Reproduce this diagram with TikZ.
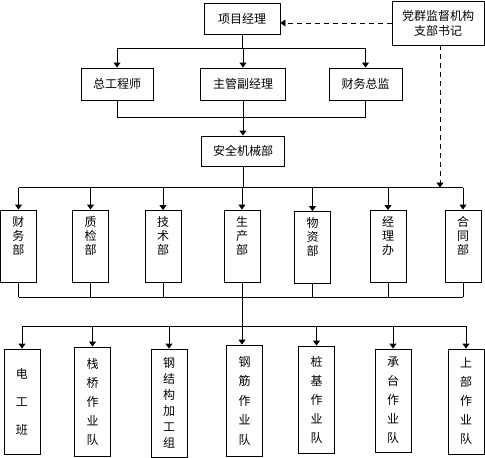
\documentclass[tikz,border=0pt]{standalone}
\usepackage{fontspec}
\newfontfamily\cjk{Noto Sans CJK SC}
\usetikzlibrary{arrows.meta}
\begin{document}
\begin{tikzpicture}[x=1pt,y=-1pt,
  font=\cjk\fontsize{12}{14}\selectfont,
  box/.style={draw,line width=0.9pt,inner sep=0pt,align=center},
  ln/.style={line width=0.9pt},
  arr/.style={ln,-{Triangle[width=7pt,length=5pt]}},
  dsh/.style={dash pattern=on 5pt off 4pt},
  vt/.style={font=\cjk\fontsize{12}{#1}\selectfont},
  dept/.style={box,minimum width=36pt,minimum height=72pt},
  team/.style={box,minimum width=36pt},
  toplab/.style={anchor=north,yshift=-3pt,align=center,font=\cjk\fontsize{12}{14}\selectfont}
]
\useasboundingbox (0,0) rectangle (485,458);

% top
\node[box,minimum width=76pt,minimum height=31pt] (pm) at (242,18.5) {项目经理};
\node[box,minimum width=92pt,minimum height=44pt,vt=15] (party) at (438,23) {党群监督机构\\支部书记};

% row 2
\node[box,minimum width=72pt,minimum height=32pt] (zg) at (117,84) {总工程师};
\node[box,minimum width=85pt,minimum height=32pt] (zf) at (243,84) {主管副经理};
\node[box,minimum width=73pt,minimum height=32pt] (cw) at (365.5,84) {财务总监};

% safety dept
\node[box,minimum width=83pt,minimum height=30pt] (aq) at (243,151) {安全机械部};

% row 3
\node[dept,label={[toplab]north:{财\\务\\部}}] (d1) at (18.5,246) {};
\node[dept,label={[toplab]north:{质\\检\\部}}] (d2) at (90.5,246) {};
\node[dept,label={[toplab]north:{技\\术\\部}}] (d3) at (163,246.5) {};
\node[dept,label={[toplab]north:{生\\产\\部}}] (d4) at (242,246) {};
\node[dept,label={[toplab]north:{物\\资\\部}}] (d5) at (312.5,247.5) {};
\node[dept,label={[toplab]north:{经\\理\\办}}] (d6) at (388,246.5) {};
\node[dept,label={[toplab]north:{合\\同\\部}}] (d7) at (463,246) {};

% row 4
\node[team,minimum height=105pt,vt=28] (t1) at (22,401.5) {电\\工\\班};
\node[team,minimum height=109pt,vt=19] (t2) at (92.5,401.5) {栈\\桥\\作\\业\\队};
\node[team,minimum height=108pt,vt=16] (t3) at (169,403) {钢\\结\\构\\加\\工\\组};
\node[team,minimum height=111pt,vt=19.5] (t4) at (244.5,400.5) {钢\\筋\\作\\业\\队};
\node[team,minimum height=107pt,vt=19] (t5) at (316.5,399.5) {桩\\基\\作\\业\\队};
\node[team,minimum height=103pt,vt=19] (t6) at (393,400.5) {承\\台\\作\\业\\队};
\node[team,minimum height=105pt,vt=19] (t7) at (466,401.5) {上\\部\\作\\业\\队};

% bus coordinates
\coordinate (b1) at (0,48);
\coordinate (b2) at (0,117);
\coordinate (b3) at (0,187.5);
\coordinate (b4) at (0,297);
\coordinate (b5) at (0,326);

% pm -> row 2
\draw[ln] (pm.south) -- (pm.south |- b1);
\draw[ln] (zg.north |- b1) -- (cw.north |- b1);
\foreach \n in {zg,zf,cw} \draw[arr] (\n.north |- b1) -- (\n.north);

% row 2 -> safety
\foreach \n in {zg,zf,cw} \draw[ln] (\n.south) -- (\n.south |- b2);
\draw[ln] (zg.south |- b2) -- (cw.south |- b2);
\draw[arr] (zf.south |- b2) -- (aq.north);

% safety -> row 3
\draw[ln] (aq.south) -- (aq.south |- b3);
\draw[ln] (d1.north |- b3) -- (d7.north |- b3);
\foreach \n in {d1,d2,d3,d4,d5,d6,d7} \draw[arr] (\n.north |- b3) -- (\n.north);

% row 3 -> row 4
\foreach \n in {d1,d2,d3,d4,d5,d6,d7} \draw[ln] (\n.south) -- (\n.south |- b4);
\draw[ln] (d1.south |- b4) -- (d7.south |- b4);
\draw[ln] (d4.south |- b4) -- (d4.south |- b5);
\draw[ln] (t1.north |- b5) -- (t7.north |- b5);
\foreach \n in {t1,t2,t3,t5,t6,t7} \draw[arr] (\n.north |- b5) -- (\n.north);
\draw[arr] (d4.south |- b5) -- (d4.south |- t4.north);

% dashed supervision
\coordinate (pd) at ([xshift=2pt]party.south);
\draw[arr,dsh] (party.west) -- (party.west -| pm.east);
\draw[arr,dsh] (pd) -- (pd |- b3);
\end{tikzpicture}
\end{document}
